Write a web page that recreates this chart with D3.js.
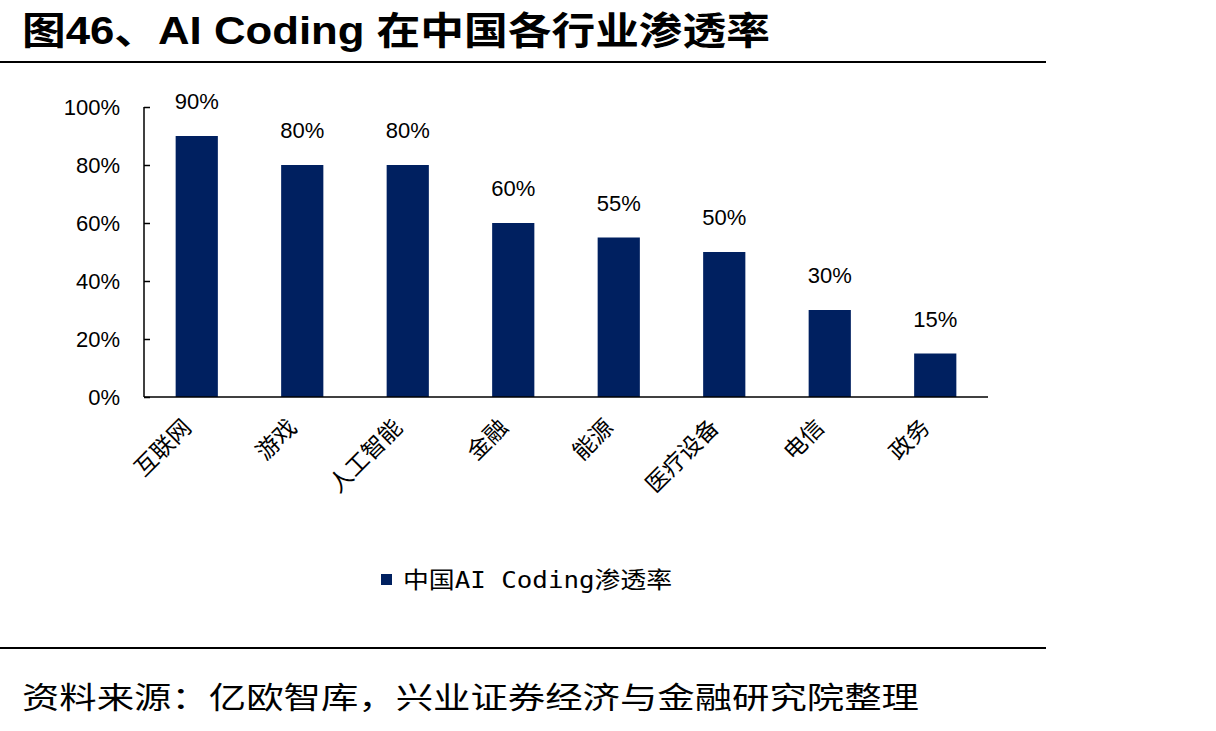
<!DOCTYPE html>
<html>
<head>
<meta charset="utf-8">
<script src="https://cdn.jsdelivr.net/npm/d3@7"></script>
<style>
  body { margin: 0; background: #fff; }
  svg { display: block; }
</style>
</head>
<body>
<div id="chart-area"></div>
<script>
// data
var categories = ["互联网", "游戏", "人工智能", "金融", "能源", "医疗设备", "电信", "政务"];
var values = [90, 80, 80, 60, 55, 50, 30, 15];
var yTicks = [0, 20, 40, 60, 80, 100];
var seriesName = "中国AI Coding渗透率";

var W = 1216, H = 731;
var margin = { left: 144, right: 228, top: 107, bottom: 334 };
var width = W - margin.left - margin.right,
    height = H - margin.top - margin.bottom;

var barColor = "#002060";

var svg = d3.select("#chart-area")
  .append("svg")
    .attr("width", W)
    .attr("height", H);

// Title
svg.append("text")
    .attr("x", 22)
    .attr("y", 44)
    .attr("font-family", "'Liberation Sans', 'Noto Sans CJK SC', sans-serif")
    .attr("font-weight", "bold")
    .attr("font-size", "38px")
    .attr("textLength", 748)
    .attr("lengthAdjust", "spacingAndGlyphs")
    .text("图46、AI Coding 在中国各行业渗透率");

svg.append("line")
    .attr("x1", 0).attr("x2", 1046)
    .attr("y1", 62).attr("y2", 62)
    .attr("stroke", "#000").attr("stroke-width", 2);

svg.append("line")
    .attr("x1", 0).attr("x2", 1046)
    .attr("y1", 648).attr("y2", 648)
    .attr("stroke", "#000").attr("stroke-width", 2);

// Footer
svg.append("text")
    .attr("x", 22)
    .attr("y", 708)
    .attr("font-family", "'Noto Sans CJK SC', sans-serif")
    .attr("font-size", "30px")
    .attr("textLength", 897)
    .attr("lengthAdjust", "spacingAndGlyphs")
    .text("资料来源：亿欧智库，兴业证券经济与金融研究院整理");

var g = svg.append("g")
    .attr("transform", "translate(" + margin.left + ", " + margin.top + ")");

var x = d3.scaleBand()
  .domain(categories)
  .range([0, width])
  .paddingInner(0.6)
  .paddingOuter(0.3);

var xCat = d3.scaleBand()
  .domain(categories)
  .range([0, width]);

var y = d3.scaleLinear()
  .domain([0, 100])
  .range([height, 0]);

// Bars
g.selectAll("rect.bar")
  .data(values)
  .enter().append("rect")
    .attr("class", "bar")
    .attr("x", function(d, i) { return x(categories[i]); })
    .attr("y", function(d) { return y(d); })
    .attr("width", x.bandwidth())
    .attr("height", function(d) { return height - y(d); })
    .attr("fill", barColor);

// Value labels
g.selectAll("text.val")
  .data(values)
  .enter().append("text")
    .attr("class", "val")
    .attr("x", function(d, i) { return x(categories[i]) + x.bandwidth() / 2; })
    .attr("y", function(d) { return y(d) - 27; })
    .attr("text-anchor", "middle")
    .attr("font-family", "'Liberation Sans', sans-serif")
    .attr("font-size", "22px")
    .attr("fill", "#000")
    .text(function(d) { return d + "%"; });

// Y axis
var yAxisCall = d3.axisLeft(y)
  .tickValues(yTicks)
  .tickSize(-6)
  .tickPadding(24)
  .tickFormat(function(d) { return d + "%"; });

var yAxisGroup = g.append("g")
  .attr("class", "y axis")
  .call(yAxisCall);

yAxisGroup.select(".domain").remove();
yAxisGroup.selectAll("line").attr("stroke", "#000").attr("stroke-width", 1.5);
yAxisGroup.selectAll("text")
  .attr("font-family", "'Liberation Sans', sans-serif")
  .attr("font-size", "22px")
  .attr("fill", "#000");

g.append("line")
  .attr("x1", 0).attr("x2", 0)
  .attr("y1", 0).attr("y2", height)
  .attr("stroke", "#000").attr("stroke-width", 1.5);

// X axis
g.append("line")
  .attr("x1", 0).attr("x2", width)
  .attr("y1", height).attr("y2", height)
  .attr("stroke", "#000").attr("stroke-width", 1.5);

g.selectAll("text.cat")
  .data(categories)
  .enter().append("text")
    .attr("class", "cat")
    .attr("transform", function(d) {
      return "translate(" + (xCat(d) + xCat.bandwidth() / 2 - 11) + "," + (height + 25) + ") rotate(-45)";
    })
    .attr("text-anchor", "end")
    .attr("dominant-baseline", "central")
    .attr("font-family", "'Noto Sans CJK SC', serif")
    .attr("font-size", "23px")
    .attr("fill", "#000")
    .text(function(d) { return d; });

// Legend
var legend = svg.append("g")
  .attr("transform", "translate(381, 574)");

legend.append("rect")
  .attr("width", 11).attr("height", 11)
  .attr("fill", barColor);

legend.append("text")
  .attr("x", 22)
  .attr("y", 6)
  .attr("dominant-baseline", "central")
  .attr("font-family", "'DejaVu Sans Mono', 'Noto Sans CJK SC', monospace")
  .attr("font-size", "23px")
  .attr("textLength", 269)
  .attr("lengthAdjust", "spacingAndGlyphs")
  .attr("fill", "#000")
  .text(seriesName);
</script>
</body>
</html>
